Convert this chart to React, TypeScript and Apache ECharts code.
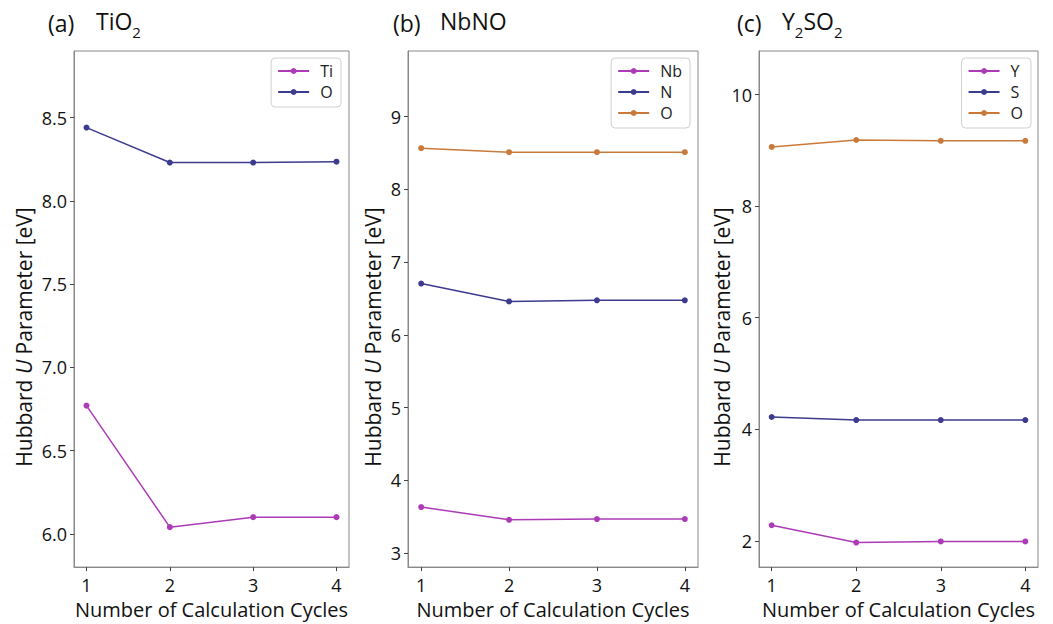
import React, { useEffect, useRef } from "react";
import * as echarts from "echarts";

const cycles = [1, 2, 3, 4];

const tio2Ti = [6.77, 6.04, 6.1, 6.1];
const tio2O = [8.44, 8.23, 8.23, 8.235];

const nbnoNb = [3.635, 3.46, 3.47, 3.47];
const nbnoN = [6.705, 6.46, 6.475, 6.475];
const nbnoO = [8.565, 8.51, 8.51, 8.51];

const y2so2Y = [2.28, 1.97, 1.99, 1.99];
const y2so2S = [4.22, 4.165, 4.165, 4.165];
const y2so2O = [9.06, 9.185, 9.17, 9.17];

const xTicks = [1, 2, 3, 4];
const yTicksA = [6.0, 6.5, 7.0, 7.5, 8.0, 8.5];
const yTicksB = [3, 4, 5, 6, 7, 8, 9];
const yTicksC = [2, 4, 6, 8, 10];

const MAGENTA = "#ad3bb8";
const BLUE = "#3c3b8e";
const ORANGE = "#c97a3b";
const FONT = "Open Sans";

export default function App() {
  const ref = useRef<HTMLDivElement>(null);

  useEffect(() => {
    if (!ref.current) return;
    const chart = echarts.init(ref.current, null, { renderer: "svg" });

    const grids = [
      { left: 74, top: 51, width: 275, height: 522 },
      { left: 408, top: 51, width: 290, height: 522 },
      { left: 759, top: 51, width: 279, height: 522 },
    ];
    const yRanges = [
      [5.8, 8.9],
      [2.81, 9.9],
      [1.53, 10.78],
    ];
    const yTicks = [yTicksA, yTicksB, yTicksC];
    const yFmt = [
      (v: number) => v.toFixed(1),
      (v: number) => String(v),
      (v: number) => String(v),
    ];

    const pair = (xs: number[], ys: number[]) => xs.map((x, i) => [x, ys[i]]);

    const mk = (name: string, idx: number, data: number[], color: string) => ({
      name,
      type: "line",
      xAxisIndex: idx,
      yAxisIndex: idx,
      data: pair(cycles, data),
      symbol: "circle",
      symbolSize: 6,
      showSymbol: true,
      lineStyle: { color, width: 1.5 },
      itemStyle: { color },
      z: 3,
    });

    const legendBase = {
      orient: "vertical",
      top: 58,
      backgroundColor: "#fff",
      borderColor: "#d0d0d0",
      borderWidth: 1,
      borderRadius: 4,
      padding: [5, 8, 7, 6],
      itemWidth: 31,
      itemHeight: 7.5,
      itemGap: 5,
      align: "left",
      textStyle: {
        fontFamily: FONT,
        fontSize: 16,
        lineHeight: 16,
        color: "#222",
        padding: [0, 0, 0, 6],
      },
      formatter: (n: string) => n.split("-")[1],
    };

    const yTitleX = [24, 373, 722];

    const option: any = {
      animation: false,
      backgroundColor: "#fff",
      textStyle: { fontFamily: FONT },
      grid: grids.map((g) => ({
        ...g,
        show: true,
        borderColor: "#888",
        borderWidth: 1,
        backgroundColor: "transparent",
      })),
      xAxis: grids.map((_, i) => ({
        type: "value",
        gridIndex: i,
        min: 0.85,
        max: 4.15,
        name: "Number of Calculation Cycles",
        nameLocation: "middle",
        nameGap: 30,
        nameTextStyle: { fontFamily: FONT, fontSize: 20, color: "#111" },
        axisLine: { show: true, lineStyle: { color: "#888", width: 1 } },
        axisTick: {
          show: true,
          length: 4,
          customValues: xTicks,
          lineStyle: { color: "#444" },
        },
        axisLabel: {
          customValues: xTicks,
          margin: 9,
          fontFamily: FONT,
          fontSize: 18,
          color: "#111",
        },
        splitLine: { show: false },
      })),
      yAxis: grids.map((_, i) => ({
        type: "value",
        gridIndex: i,
        min: yRanges[i][0],
        max: yRanges[i][1],
        axisLine: { show: true, lineStyle: { color: "#888", width: 1 } },
        axisTick: {
          show: true,
          length: 4,
          customValues: yTicks[i],
          lineStyle: { color: "#444" },
        },
        axisLabel: {
          customValues: yTicks[i],
          margin: 7,
          fontFamily: FONT,
          fontSize: 18,
          color: "#111",
          formatter: yFmt[i],
        },
        splitLine: { show: false },
      })),
      legend: [
        { ...legendBase, right: 1053 - 341, data: ["a-Ti", "a-O"] },
        { ...legendBase, right: 1053 - 690, data: ["b-Nb", "b-N", "b-O"] },
        { ...legendBase, right: 1053 - 1031, data: ["c-Y", "c-S", "c-O"] },
      ],
      series: [
        mk("a-Ti", 0, tio2Ti, MAGENTA),
        mk("a-O", 0, tio2O, BLUE),
        mk("b-Nb", 1, nbnoNb, MAGENTA),
        mk("b-N", 1, nbnoN, BLUE),
        mk("b-O", 1, nbnoO, ORANGE),
        mk("c-Y", 2, y2so2Y, MAGENTA),
        mk("c-S", 2, y2so2S, BLUE),
        mk("c-O", 2, y2so2O, ORANGE),
      ],
      graphic: [
        ...[
          ["(a)", "{b|TiO}{s|2}", 48, 96],
          ["(b)", "{b|NbNO}", 393, 440],
          ["(c)", "{b|Y}{s|2}{b|SO}{s|2}", 737, 782],
        ].flatMap(([lab, chem, x1, x2]) => [
          {
            type: "text",
            left: x1 as number,
            top: 11,
            style: { text: lab as string, fontFamily: FONT, fontSize: 23, fill: "#111" },
          },
          {
            type: "text",
            left: x2 as number,
            top: 9,
            style: {
              text: chem as string,
              fill: "#111",
              rich: {
                b: { fontFamily: FONT, fontSize: 23, fill: "#111", lineHeight: 30, verticalAlign: "top" },
                s: { fontFamily: FONT, fontSize: 15, fill: "#111", lineHeight: 16, verticalAlign: "bottom" },
              },
            },
          },
        ]),
        ...yTitleX.map((x) => ({
          type: "text",
          x,
          y: 337,
          rotation: Math.PI / 2,
          style: {
            text: "{n|Hubbard }{i|U}{n| Parameter [eV]}",
            align: "center",
            verticalAlign: "middle",
            fill: "#111",
            rich: {
              n: { fontFamily: FONT, fontSize: 21, fill: "#111" },
              i: { fontFamily: FONT, fontSize: 21, fill: "#111", fontStyle: "italic" },
            },
          },
        })),
      ],
    };

    chart.setOption(option);
    return () => chart.dispose();
  }, []);

  return (
    <div
      ref={ref}
      style={{ position: "absolute", left: 0, top: 0, width: 1053, height: 624 }}
    />
  );
}
